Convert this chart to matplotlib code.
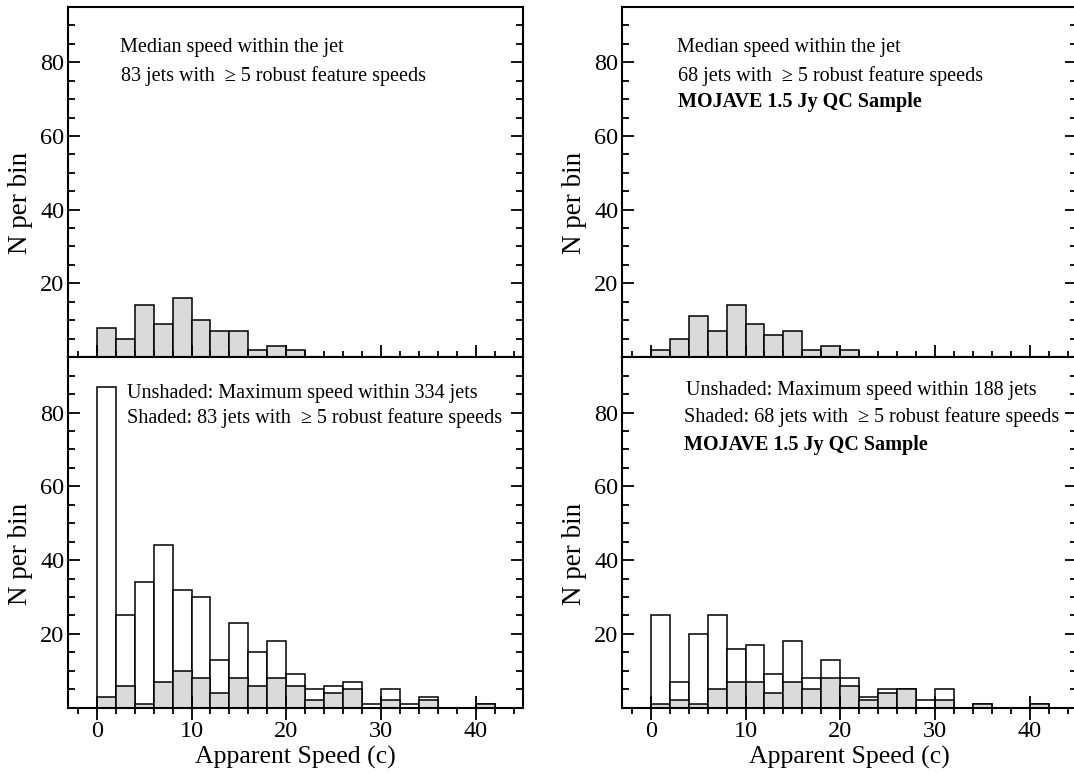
import numpy as np
import matplotlib
matplotlib.use("Agg")
import matplotlib.pyplot as plt
from matplotlib.ticker import MultipleLocator

plt.rcParams['font.family'] = ['Liberation Serif', 'DejaVu Serif']

# bin left edges (2 c wide bins starting at 0)
bin_edges = np.arange(0, 42, 2)
bin_width = 2

# top row: median speed within the jet
median_all = [8, 5, 14, 9, 16, 10, 7, 7, 2, 3, 2, 0, 0, 0, 0, 0, 0, 0, 0, 0, 0]
median_qc = [2, 5, 11, 7, 14, 9, 6, 7, 2, 3, 2, 0, 0, 0, 0, 0, 0, 0, 0, 0, 0]

# bottom row: maximum speed (unshaded) and the robust subset (shaded)
max_all = [87, 25, 34, 44, 32, 30, 13, 23, 15, 18, 9, 5, 6, 7, 1, 5, 1, 3, 0, 0, 1]
max_all_robust = [3, 6, 1, 7, 10, 8, 4, 8, 6, 8, 6, 2, 4, 5, 0, 2, 0, 2, 0, 0, 1]
max_qc = [25, 7, 20, 25, 16, 17, 9, 18, 8, 13, 8, 3, 5, 5, 2, 5, 0, 1, 0, 0, 1]
max_qc_robust = [1, 2, 1, 5, 7, 7, 4, 7, 5, 8, 6, 2, 4, 5, 0, 2, 0, 1, 0, 0, 1]

shade = '#dadada'
fs_tick = 17.5
fs_xlabel = 18.5
fs_ylabel = 19.5
fs_text = 14.5

fig = plt.figure(figsize=(10.74, 7.74), dpi=100)

W, H = 1074.0, 774.0
ax_w = 455 / W
ax_h = 350.5 / H
left_x = [68.3 / W, 622.3 / W]
top_y = (H - 357.0) / H
bot_y = (H - 707.7) / H

axes = {}
for col in range(2):
    axes[('top', col)] = fig.add_axes([left_x[col], top_y, ax_w, 350.0 / H])
    axes[('bot', col)] = fig.add_axes([left_x[col], bot_y, ax_w, ax_h])


def style_axis(ax, row):
    ax.set_xlim(-3, 45)
    ax.set_ylim(0, 95)
    ax.xaxis.set_major_locator(MultipleLocator(10))
    ax.xaxis.set_minor_locator(MultipleLocator(2))
    ax.yaxis.set_minor_locator(MultipleLocator(5))
    ax.set_yticks([20, 40, 60, 80])
    for sp in ax.spines.values():
        sp.set_linewidth(1.5)
    ax.tick_params(axis='y', which='both', direction='in', left=True, right=True,
                   width=1.3, labelsize=fs_tick, pad=3)
    ax.tick_params(axis='y', which='major', length=8.5)
    ax.tick_params(axis='y', which='minor', length=5)
    ax.tick_params(axis='x', which='major', direction='inout', length=17, width=1.3,
                   labelsize=fs_tick, pad=1, top=False)
    ax.tick_params(axis='x', which='minor', length=4.5, width=1.3, top=False,
                   direction='in' if row == 'top' else 'out')
    if row == 'top':
        ax.tick_params(axis='x', which='both', labelbottom=False)
    ax.set_ylabel('N per bin', fontsize=fs_ylabel)
    ax.yaxis.set_label_coords(-0.077, 0.44)


# top row: median speeds
for col, counts in enumerate([median_all, median_qc]):
    ax = axes[('top', col)]
    ax.bar(bin_edges, counts, width=bin_width, align='edge', color=shade,
           edgecolor='black', linewidth=1.1)
    style_axis(ax, 'top')

# bottom row: maximum speeds
for col, (unshaded, shaded) in enumerate([(max_all, max_all_robust), (max_qc, max_qc_robust)]):
    ax = axes[('bot', col)]
    ax.bar(bin_edges, unshaded, width=bin_width, align='edge', color='white',
           edgecolor='black', linewidth=1.1)
    ax.bar(bin_edges, shaded, width=bin_width, align='edge', color=shade,
           edgecolor='black', linewidth=1.1)
    style_axis(ax, 'bot')
    ax.set_xlabel('Apparent Speed (c)', fontsize=fs_xlabel, labelpad=3)

# annotations
ax = axes[('top', 0)]
ax.text(2.45, 84, 'Median speed within the jet', fontsize=fs_text, va='center')
ax.text(2.6, 76.3, '83 jets with  \u2265 5 robust feature speeds', fontsize=fs_text, va='center')

ax = axes[('top', 1)]
ax.text(2.8, 84, 'Median speed within the jet', fontsize=fs_text, va='center')
ax.text(2.9, 76.3, '68 jets with  \u2265 5 robust feature speeds', fontsize=fs_text, va='center')
ax.text(2.9, 69.3, 'MOJAVE 1.5 Jy QC Sample', fontsize=fs_text, va='center', fontweight='bold')

ax = axes[('bot', 0)]
ax.text(3.2, 85.2, 'Unshaded: Maximum speed within 334 jets', fontsize=fs_text, va='center')
ax.text(3.2, 78.6, 'Shaded: 83 jets with  \u2265 5 robust feature speeds', fontsize=fs_text, va='center')

ax = axes[('bot', 1)]
ax.text(3.7, 85.9, 'Unshaded: Maximum speed within 188 jets', fontsize=fs_text, va='center')
ax.text(3.5, 78.8, 'Shaded: 68 jets with  \u2265 5 robust feature speeds', fontsize=fs_text, va='center')
ax.text(3.5, 71.2, 'MOJAVE 1.5 Jy QC Sample', fontsize=fs_text, va='center', fontweight='bold')

fig.savefig('out.png', dpi=100)
